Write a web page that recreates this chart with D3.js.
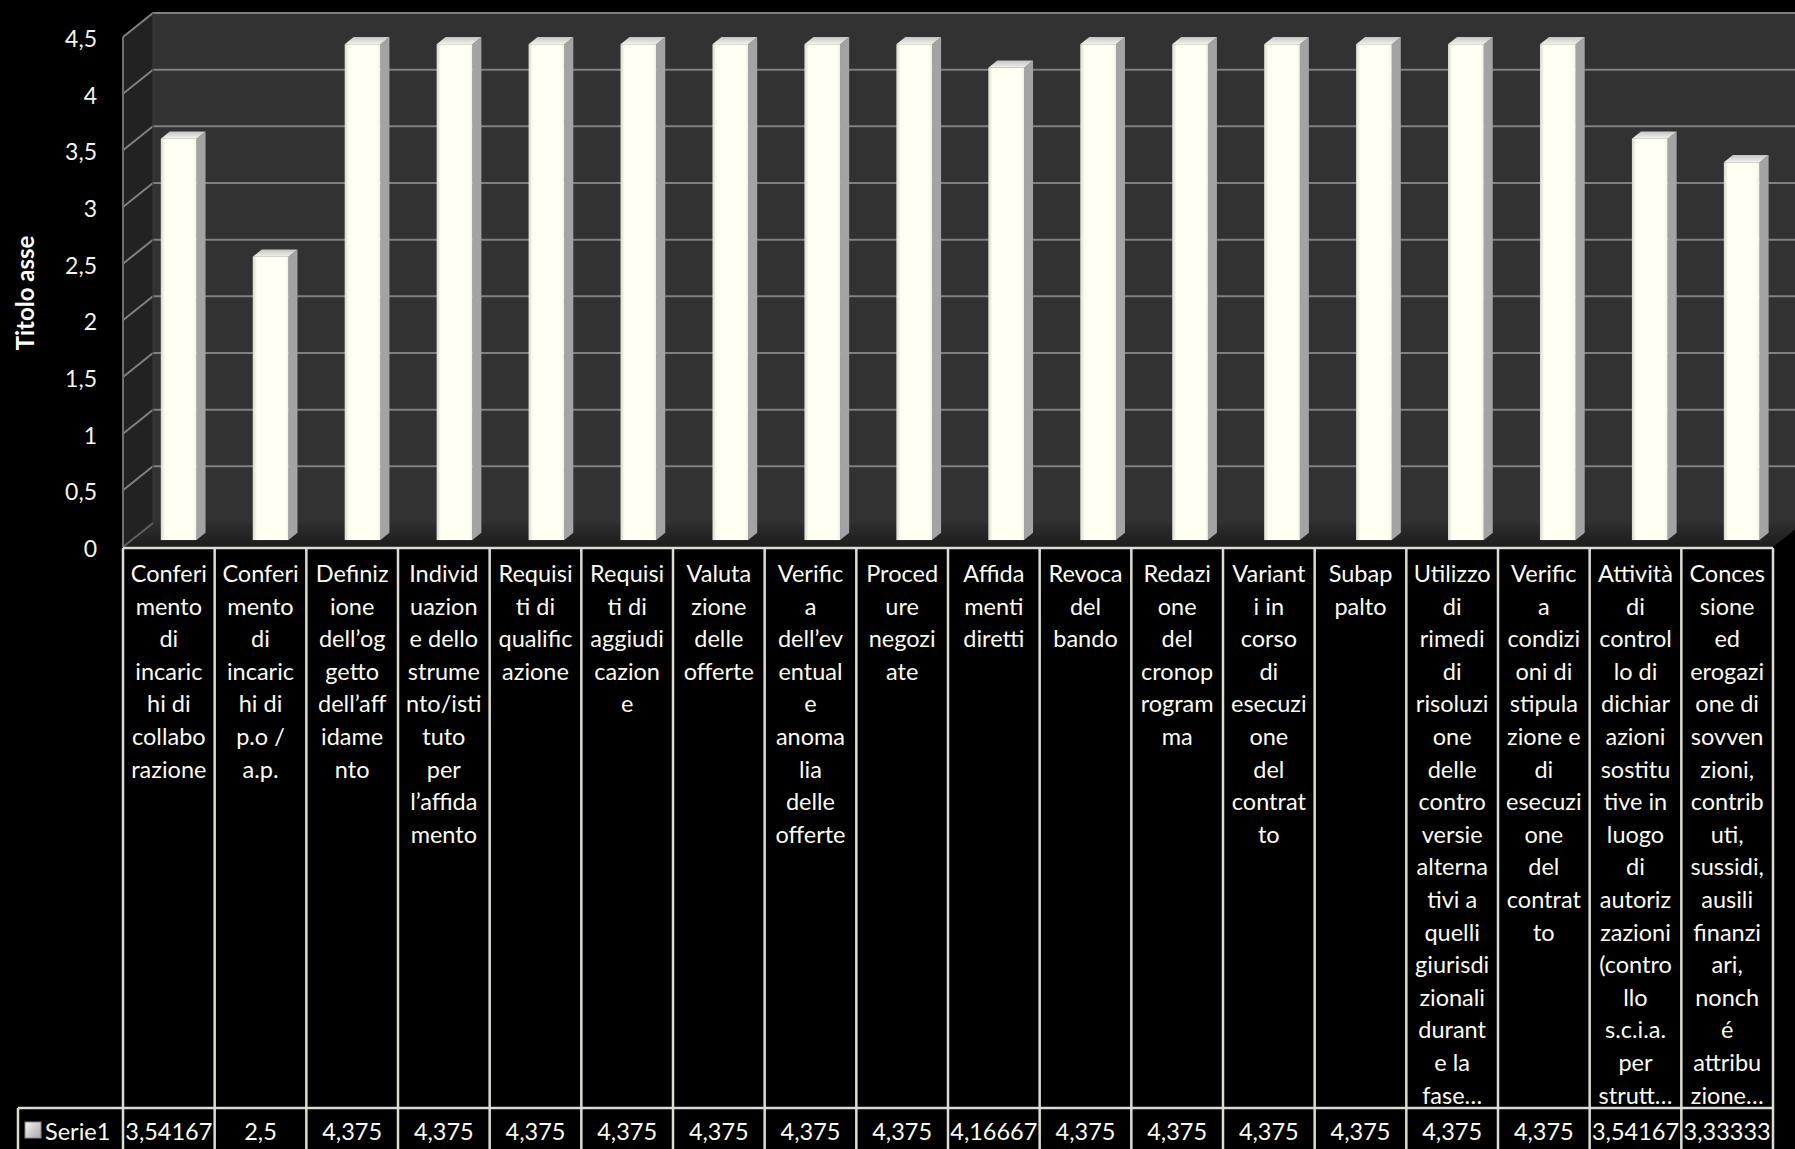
<!DOCTYPE html>
<html><head><meta charset="utf-8">
<script src="https://cdn.jsdelivr.net/npm/d3@7"></script>
<style>
html,body{margin:0;padding:0;background:#000;}
svg{display:block;}
</style></head>
<body>
<svg id="chart" width="1795" height="1149"></svg>
<script>
const categories = [
 ["Conferi","mento","di","incaric","hi di","collabo","razione"],
 ["Conferi","mento","di","incaric","hi di","p.o /","a.p."],
 ["Definiz","ione","dell’og","getto","dell’aff","idame","nto"],
 ["Individ","uazion","e dello","strume","nto/isti","tuto","per","l’affida","mento"],
 ["Requisi","ti di","qualific","azione"],
 ["Requisi","ti di","aggiudi","cazion","e"],
 ["Valuta","zione","delle","offerte"],
 ["Verific","a","dell’ev","entual","e","anoma","lia","delle","offerte"],
 ["Proced","ure","negozi","ate"],
 ["Affida","menti","diretti"],
 ["Revoca","del","bando"],
 ["Redazi","one","del","cronop","rogram","ma"],
 ["Variant","i in","corso","di","esecuzi","one","del","contrat","to"],
 ["Subap","palto"],
 ["Utilizzo","di","rimedi","di","risoluzi","one","delle","contro","versie","alterna","tivi a","quelli","giurisdi","zionali","durant","e la","fase…"],
 ["Verific","a","condizi","oni di","stipula","zione e","di","esecuzi","one","del","contrat","to"],
 ["Attività","di","control","lo di","dichiar","azioni","sostitu","tive in","luogo","di","autoriz","zazioni","(contro","llo","s.c.i.a.","per","strutt…"],
 ["Conces","sione","ed","erogazi","one di","sovven","zioni,","contrib","uti,","sussidi,","ausili","finanzi","ari,","nonch","é","attribu","zione…"]
];
const serie1 = [3.54167,2.5,4.375,4.375,4.375,4.375,4.375,4.375,4.375,4.16667,4.375,4.375,4.375,4.375,4.375,4.375,3.54167,3.33333];
const seriesName = "Serie1";
const yTicks = [0,0.5,1,1.5,2,2.5,3,3.5,4,4.5];
const axisTitle = "Titolo asse";

const svg = d3.select("#chart");
const FONT = "Lato, 'Open Sans', sans-serif";
const X0 = 123, X1 = 1773;
const DX = 30, DY = -24;
const idx = categories.map((c,i)=>i);
const x = d3.scaleBand().domain(idx).range([X0,X1]).padding(0);
const xBar = d3.scaleBand().domain(idx).range([X0+1,X1+6]).padding(0);
const y = d3.scaleLinear().domain([0,4.5]).range([547,37]);

const defs = svg.append("defs");
const gFloor = defs.append("linearGradient").attr("id","floor").attr("x1",0).attr("y1",0).attr("x2",0).attr("y2",1);
gFloor.append("stop").attr("offset",0).attr("stop-color","#2e2e2e");
gFloor.append("stop").attr("offset",1).attr("stop-color","#1c1c1c");
const gFront = defs.append("linearGradient").attr("id","front").attr("x1",0).attr("y1",0).attr("x2",1).attr("y2",0);
gFront.append("stop").attr("offset",0).attr("stop-color","#d8d8d0");
gFront.append("stop").attr("offset",0.12).attr("stop-color","#fffff4");
gFront.append("stop").attr("offset",0.9).attr("stop-color","#fffff4");
gFront.append("stop").attr("offset",1).attr("stop-color","#f0f0e6");
const gTop = defs.append("linearGradient").attr("id","top").attr("x1",0).attr("y1",1).attr("x2",0).attr("y2",0);
gTop.append("stop").attr("offset",0).attr("stop-color","#f2f2ec");
gTop.append("stop").attr("offset",1).attr("stop-color","#c4c4c4");

const y0 = y(0), yTop = y(4.5);
const pts = a => a.map(p=>p.join(",")).join(" ");
svg.append("polygon").attr("points",pts([[X0,yTop],[X0+DX,yTop+DY],[X0+DX,y0+DY],[X0,y0]])).attr("fill","#222222");
svg.append("polygon").attr("points",pts([[X0+DX,yTop+DY],[X1+DX+40,yTop+DY],[X1+DX+40,y0+DY],[X0+DX,y0+DY]])).attr("fill","#323232");
svg.append("polygon").attr("points",pts([[X0,y0],[X0+DX,y0+DY],[X1+DX,y0+DY],[X1,y0]])).attr("fill","url(#floor)");

const grid = svg.append("g").attr("stroke","#808080").attr("stroke-width",2).attr("fill","none");
yTicks.forEach(t=>{
  const yy = y(t);
  if (t>0) {
    grid.append("polyline").attr("points",pts([[X0,yy],[X0+DX,yy+DY],[X1+DX+40,yy+DY]]));
  } else {
    grid.append("line").attr("x1",X0).attr("y1",yy).attr("x2",X0+DX).attr("y2",yy+DY).attr("stroke","#606060");
  }
});
grid.append("line").attr("x1",X0).attr("y1",yTop).attr("x2",X0).attr("y2",y0).attr("stroke","#707070");
grid.append("line").attr("x1",X0+DX).attr("y1",yTop+DY).attr("x2",X0+DX).attr("y2",y0+DY).attr("stroke","#3a3a3a").attr("stroke-width",1);

svg.append("g").selectAll("text").data(yTicks).join("text")
  .attr("x",97).attr("y",d=>y(d)+1).attr("text-anchor","end").attr("dominant-baseline","central")
  .attr("fill","#f4f4ec").attr("font-family",FONT).attr("font-size",23)
  .text(d=>String(d).replace(".",","));

svg.append("text").attr("transform","translate(24,293) rotate(-90)")
  .attr("text-anchor","middle").attr("dominant-baseline","central")
  .attr("fill","#fff").attr("font-family",FONT).attr("font-weight","bold").attr("font-size",24)
  .text(axisTitle);

const f0 = 0.29, f1 = 0.59;
const bw = x.bandwidth()*0.39;
const bars = svg.append("g");
serie1.forEach((v,i)=>{
  const cx = xBar(i) + xBar.bandwidth()/2;
  const xl = cx - bw/2 + f0*DX, xr = xl + bw;
  const yb = y0 + f0*DY, yt = y(v) + f0*DY;
  const sdx = (f1-f0)*DX, sdy = (f1-f0)*DY;
  const g = bars.append("g");
  g.append("polygon").attr("points",pts([[xr,yt],[xr+sdx,yt+sdy],[xr+sdx,yb+sdy],[xr,yb]])).attr("fill","#a3a3a3");
  g.append("polygon").attr("points",pts([[xl,yt],[xl+sdx,yt+sdy],[xr+sdx,yt+sdy],[xr,yt]])).attr("fill","url(#top)");
  g.append("rect").attr("x",xl).attr("y",yt).attr("width",bw).attr("height",yb-yt).attr("fill","url(#front)");
});

const tbl = svg.append("g");
const LINE = "#dedcd2";
const hTop = 548, hBot = 1108, rBot = 1160;
tbl.append("line").attr("x1",X0).attr("x2",X1).attr("y1",hTop).attr("y2",hTop).attr("stroke",LINE).attr("stroke-width",2.5);
tbl.append("line").attr("x1",18).attr("x2",X1).attr("y1",hBot).attr("y2",hBot).attr("stroke",LINE).attr("stroke-width",2.5);
tbl.append("line").attr("x1",18).attr("x2",18).attr("y1",hBot).attr("y2",rBot).attr("stroke",LINE).attr("stroke-width",2.5);
idx.concat([categories.length]).forEach(i=>{
  const xx = i<categories.length ? x(i) : X1;
  tbl.append("line").attr("x1",xx).attr("x2",xx).attr("y1",hTop).attr("y2",rBot).attr("stroke",LINE).attr("stroke-width",2.5);
});
categories.forEach((lines,i)=>{
  const cx = x(i)+x.bandwidth()/2;
  const t = tbl.append("text").attr("text-anchor","middle").attr("fill","#fbfbf0")
    .attr("font-family",FONT).attr("font-size",23.5);
  lines.forEach((ln,k)=>{
    t.append("tspan").attr("x",cx).attr("y",573+k*32.6).attr("dominant-baseline","central").text(ln);
  });
  tbl.append("text").attr("x",cx).attr("y",1131).attr("text-anchor","middle").attr("dominant-baseline","central")
    .attr("fill","#fbfbf0").attr("font-family",FONT).attr("font-size",23.5)
    .text(String(serie1[i]).replace(".",","));
});
const gKey = defs.append("linearGradient").attr("id","key").attr("x1",0).attr("y1",0).attr("x2",1).attr("y2",1);
gKey.append("stop").attr("offset",0).attr("stop-color","#f4f4f4");
gKey.append("stop").attr("offset",1).attr("stop-color","#a8a8a8");
tbl.append("rect").attr("x",25).attr("y",1122).attr("width",16).attr("height",16).attr("fill","url(#key)").attr("stroke","#888").attr("stroke-width",1);
tbl.append("text").attr("x",45).attr("y",1131).attr("dominant-baseline","central")
  .attr("fill","#fbfbf0").attr("font-family",FONT).attr("font-size",23.5).text(seriesName);
</script>
</body></html>
